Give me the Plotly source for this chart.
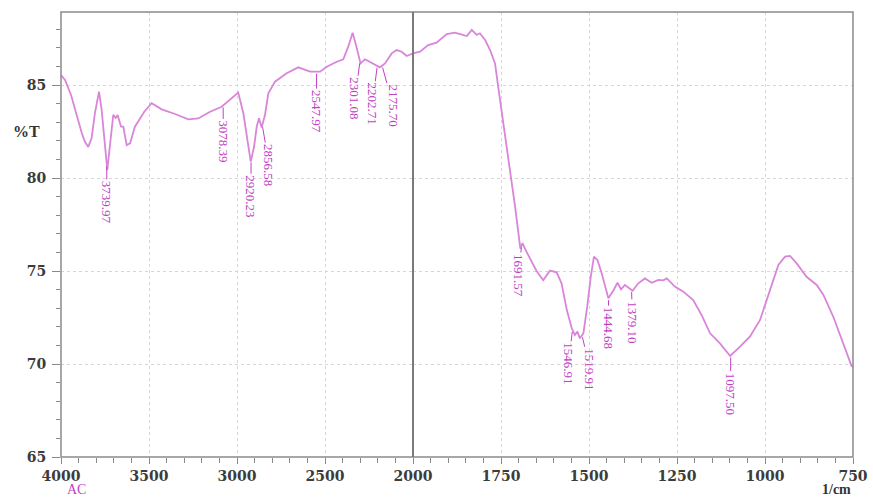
import numpy as np
import plotly.graph_objects as go

# ---- data ----
wn_hi = [4000, 3977, 3943, 3920, 3882, 3864, 3845, 3826, 3807, 3784, 3769, 3737, 3722, 3703,
         3689, 3678, 3659, 3646, 3627, 3608, 3580, 3551, 3527, 3485, 3428, 3352, 3277, 3220,
         3153, 3087, 2993, 2964, 2936, 2922, 2903, 2888, 2875, 2860, 2841, 2822, 2784, 2718,
         2652, 2585, 2528, 2490, 2433, 2396, 2368, 2343, 2324, 2298, 2273, 2226, 2188, 2159,
         2121, 2093, 2064, 2036, 2000]
t_hi = [85.54, 85.27, 84.46, 83.66, 82.42, 81.95, 81.67, 82.15, 83.50, 84.64, 83.66, 80.43, 81.88, 83.39,
        83.23, 83.39, 82.76, 82.76, 81.77, 81.86, 82.76, 83.21, 83.56, 84.02, 83.69, 83.44, 83.15, 83.20,
        83.56, 83.83, 84.59, 83.48, 81.68, 80.88, 81.68, 82.76, 83.21, 82.72, 83.39, 84.55, 85.18, 85.63,
        85.95, 85.72, 85.72, 85.98, 86.25, 86.38, 87.06, 87.81, 87.15, 86.16, 86.38, 86.16, 85.95, 86.16,
        86.70, 86.88, 86.79, 86.56, 86.70]

wn_lo = [2000, 1980, 1957, 1933, 1904, 1881, 1866, 1847, 1833, 1819, 1810, 1795, 1781, 1767,
         1758, 1743, 1729, 1710, 1695, 1689, 1682, 1668, 1649, 1630, 1611, 1592, 1578, 1563,
         1549, 1540, 1533, 1526, 1516, 1505, 1495, 1486, 1476, 1464, 1445, 1430, 1419, 1409,
         1398, 1376, 1360, 1341, 1322, 1303, 1289, 1279, 1256, 1232, 1204, 1180, 1156, 1128,
         1099, 1071, 1043, 1014, 986, 962, 943, 929, 910, 882, 853, 834, 806, 778, 754, 750]
t_lo = [86.70, 86.79, 87.15, 87.28, 87.74, 87.82, 87.74, 87.63, 87.96, 87.69, 87.78, 87.42, 86.88, 86.16,
        84.91, 82.94, 80.97, 78.46, 76.20, 76.50, 76.20, 75.70, 75.00, 74.50, 75.02, 74.93, 74.34, 72.90,
        71.92, 71.56, 71.74, 71.38, 71.65, 73.08, 74.69, 75.77, 75.59, 74.88, 73.53, 73.98, 74.37, 74.01,
        74.25, 73.94, 74.34, 74.60, 74.37, 74.52, 74.50, 74.60, 74.16, 73.89, 73.44, 72.63, 71.65, 71.11,
        70.43, 70.93, 71.47, 72.37, 73.98, 75.32, 75.77, 75.81, 75.41, 74.69, 74.25, 73.71, 72.54, 71.11,
        69.89, 69.85]

peak_wn = [3739.97, 3078.39, 2920.23, 2856.58, 2547.97, 2301.08, 2202.71, 2175.70,
           1691.57, 1546.91, 1519.91, 1444.68, 1379.10, 1097.50]
peak_labels = ["3739.97", "3078.39", "2920.23", "2856.58", "2547.97", "2301.08", "2202.71", "2175.70",
               "1691.57", "1546.91", "1519.91", "1444.68", "1379.10", "1097.50"]

hi_ticks = [4000, 3500, 3000, 2500, 2000]
lo_ticks = [1750, 1500, 1250, 1000, 750]
y_ticks = [65, 70, 75, 80, 85]

# ---- styling ----
LINE = "#d985d9"
LAB = "#c23fc2"
AXC = "#8a8a8a"
GRID = "#d6d6d6"
TICKFONT = dict(family="DejaVu Serif", size=14, color="#3c3c3c", weight="bold")
split = 352 / 792
# label leader offsets in pixels (ax, ay), one per peak label
label_offsets = [(0, 38), (0, 36), (0, 36), (7, 40), (0, 40), (-5, 37), (-5, 38), (11, 40),
                 (-3, 30), (-4, 34), (8, 34), (0, 30), (1, 32), (0, 38)]

fig = go.Figure()
fig.add_trace(go.Scatter(x=wn_hi, y=t_hi, xaxis="x", yaxis="y", mode="lines",
                         line=dict(color=LINE, width=1.8), showlegend=False))
fig.add_trace(go.Scatter(x=wn_lo, y=t_lo, xaxis="x2", yaxis="y", mode="lines",
                         line=dict(color=LINE, width=1.8), showlegend=False))

annotations = []
hx = np.array(wn_hi[::-1], dtype=float); hy = np.array(t_hi[::-1], dtype=float)
lx = np.array(wn_lo[::-1], dtype=float); ly = np.array(t_lo[::-1], dtype=float)
for w, lab, (ax, ay) in zip(peak_wn, peak_labels, label_offsets):
    if w >= 2000:
        yv = float(np.interp(w, hx, hy)); xr = "x"
    else:
        yv = float(np.interp(w, lx, ly)); xr = "x2"
    annotations.append(dict(x=w, y=yv, xref=xr, yref="y", text=lab, textangle=90,
                            showarrow=True, arrowhead=0, arrowwidth=1, arrowcolor=LAB,
                            ax=ax, ay=ay, standoff=2,
                            font=dict(family="Liberation Serif", size=13, color=LAB)))

annotations += [
    dict(x=-(61 - 26) / 792, y=82.5, xref="paper", yref="y", text="%T", showarrow=False,
         xanchor="center", font=dict(family="Liberation Serif", size=16, color="#333", weight="bold")),
    dict(x=0.005, y=-0.074, xref="paper", yref="paper", text="AC", showarrow=False,
         xanchor="left", yanchor="middle", font=dict(family="Liberation Serif", size=14, color=LAB)),
    dict(x=1.0, y=-0.074, xref="paper", yref="paper", text="1/cm", showarrow=False,
         xanchor="right", yanchor="middle", font=dict(family="Liberation Serif", size=14, color="#333", weight="bold")),
]

shapes = [
    dict(type="rect", xref="paper", yref="paper", x0=0, x1=1, y0=0, y1=1,
         line=dict(color=AXC, width=1.5)),
    dict(type="line", xref="paper", yref="paper", x0=split, x1=split, y0=0, y1=1,
         line=dict(color="#7a7a7a", width=2)),
]

common_x = dict(showline=False, ticks="outside", ticklen=6, tickcolor=AXC, tickwidth=1,
                showgrid=True, gridcolor=GRID, griddash="dot", gridwidth=1, automargin=False,
                zeroline=False, tickfont=TICKFONT, anchor="y", ticklabelstandoff=0)

fig.update_layout(
    width=873, height=498,
    margin=dict(l=61, r=20, t=12, b=41),
    paper_bgcolor="white", plot_bgcolor="white",
    xaxis=dict(domain=[0, split], range=[4000, 2000], tickmode="array", tickvals=hi_ticks,
               minor=dict(dtick=100, ticks="outside", ticklen=5, tickcolor=AXC, showgrid=False),
               **common_x),
    xaxis2=dict(domain=[split, 1], range=[2000, 750], tickmode="array", tickvals=lo_ticks,
                minor=dict(dtick=50, ticks="outside", ticklen=5, tickcolor=AXC, showgrid=False),
                **common_x),
    yaxis=dict(range=[65, 65 + 445 / 18.6], tickmode="array", tickvals=y_ticks,
               ticks="outside", ticklen=8, tickcolor=AXC, showline=False, automargin=False,
               ticklabelstandoff=3,
               minor=dict(dtick=1, ticks="outside", ticklen=4, tickcolor=AXC, showgrid=False),
               showgrid=True, gridcolor=GRID, griddash="dot", zeroline=False,
               tickfont=TICKFONT, anchor="x"),
    annotations=annotations,
    shapes=shapes,
)

fig.write_html("out.html")
